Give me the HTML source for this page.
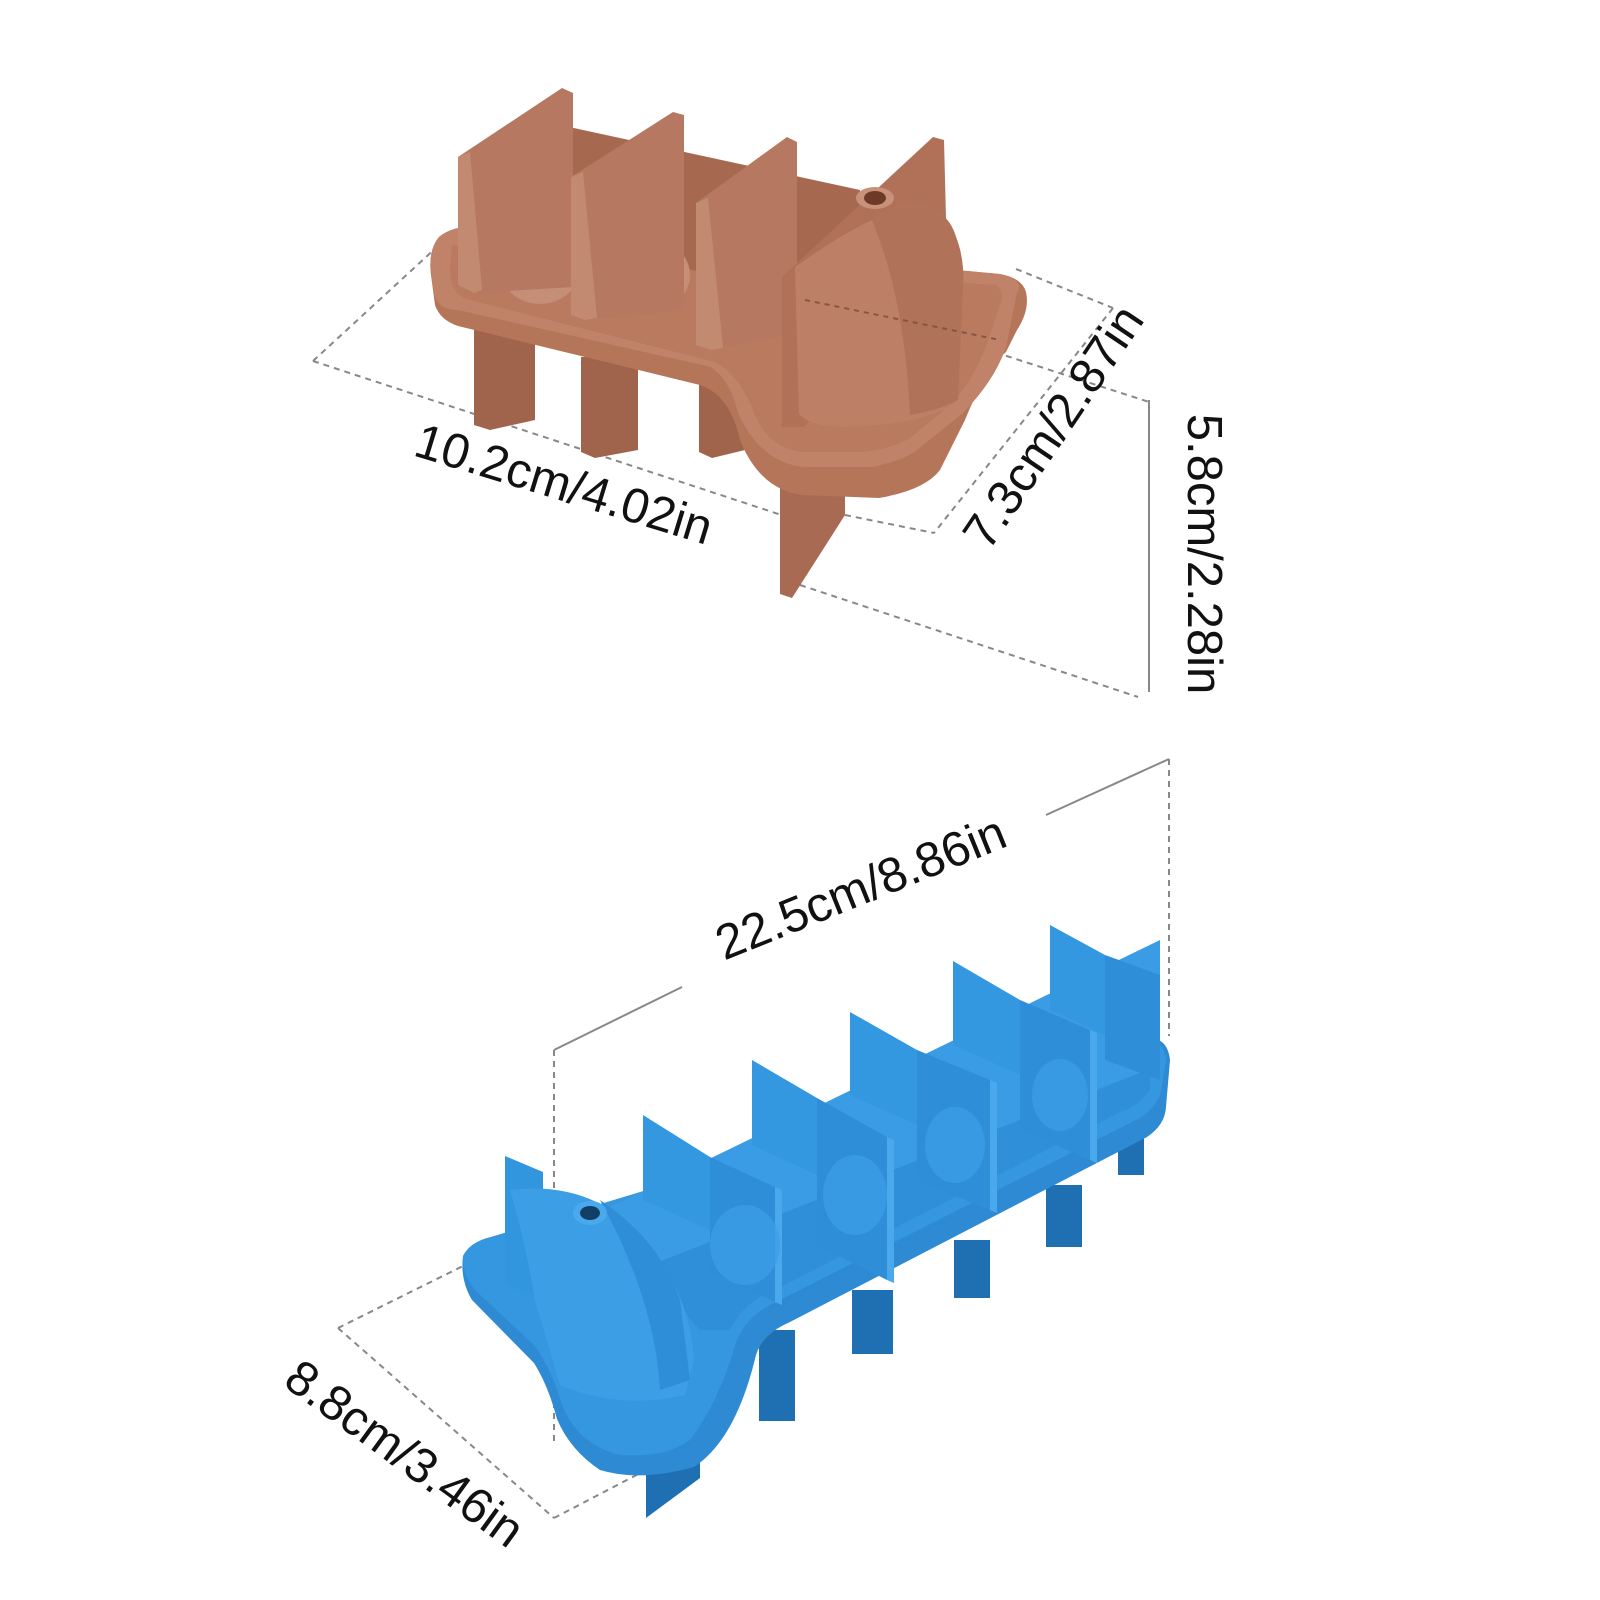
<!DOCTYPE html>
<html><head><meta charset="utf-8"><style>
html,body{margin:0;padding:0;background:#fff;}
svg{display:block}
text{font-family:"Liberation Sans",sans-serif;font-size:49px;fill:#111;}
</style></head><body>
<svg width="1600" height="1600" viewBox="0 0 1600 1600" xmlns="http://www.w3.org/2000/svg">
<g stroke="#888" stroke-width="2" fill="none" stroke-dasharray="6,5">
<line x1="313" y1="361" x2="451" y2="234"/>
<line x1="313" y1="361" x2="821" y2="528"/>
<line x1="1016" y1="269" x2="1113" y2="308"/>
<line x1="1113" y1="308" x2="934" y2="533"/>
<line x1="800" y1="585" x2="1138" y2="697"/>
<line x1="985" y1="349" x2="1149" y2="402"/>
<line x1="845" y1="515" x2="934" y2="533"/>
</g>
<line x1="1149" y1="400" x2="1149" y2="692" stroke="#888" stroke-width="2"/>

<g>
<polygon points="474,330 535,330 535,420 490,430 474,425" fill="#a0644c"/>
<polygon points="581,357 638,357 638,450 595,458 581,452" fill="#a0644c"/>
<polygon points="699,373 745,373 745,450 712,458 699,452" fill="#a0644c"/>
<polygon points="780,430 845,455 845,515 792,598 780,594" fill="#a86a52"/>
<path d="M439,237 Q428,250 431,275 L435,305 Q440,320 458,326 L700,385 Q730,395 740,440 Q760,490 803,495 L879,498 Q925,490 940,470 L965,420 Q985,370 1006,352 L1017,330 Q1030,310 1026,292 Q1022,278 1000,274 L478,226 Q452,226 439,237 Z" fill="#b57559"/>
<path d="M439,237 Q428,250 431,275 L435,297 Q440,310 458,310 L711,367 Q730,380 738,413 Q760,462 803,467 L872,467 Q905,460 917,450 L963,413 Q995,380 1006,347 L1017,293 Q1025,280 1000,274 L478,226 Q452,226 439,237 Z" fill="#c08268"/>
<path d="M452,245 L995,285 Q1005,290 1000,305 L990,335 Q975,380 950,405 L910,438 Q890,450 860,452 L805,452 Q770,450 755,415 Q740,375 715,362 L470,300 Q450,295 450,270 Z" fill="#b97a60"/>
<polygon points="523,117 860,190 860,300 523,240" fill="#a66950"/>
<ellipse cx="540" cy="268" rx="40" ry="36" fill="#c48e77"/>
<ellipse cx="650" cy="275" rx="40" ry="36" fill="#c48e77"/>
<ellipse cx="760" cy="292" rx="36" ry="34" fill="#c48e77"/>
<polygon points="458,157 562,88 573,93 573,287 474,293 458,285" fill="#b67860"/>
<polygon points="458,157 470,152 482,290 474,293 458,285" fill="#c38a72"/>
<polygon points="571,177 673,112 684,115 684,310 585,320 571,315" fill="#b67860"/>
<polygon points="571,177 583,172 597,318 585,320 571,315" fill="#c38a72"/>
<polygon points="696,203 787,137 797,142 797,333 711,350 696,345" fill="#b67860"/>
<polygon points="696,203 708,198 723,348 711,350 696,345" fill="#c38a72"/>
<polygon points="782,277 933,137 944,140 948,297 803,427 782,427" fill="#b07158"/>
<path d="M795,267 Q840,235 872,220 Q900,200 925,203 Q950,215 956,237 Q965,260 963,290 L958,400 Q930,425 841,427 Q805,425 799,413 Z" fill="#bd8067"/>
<path d="M872,220 Q900,200 925,203 Q950,215 956,237 Q965,260 963,290 L958,400 Q940,410 910,415 Q905,300 872,220 Z" fill="#b07259"/>
<ellipse cx="875" cy="198" rx="19" ry="11" fill="#c8917a"/>
<ellipse cx="875" cy="198" rx="11" ry="7" fill="#6e3a28"/>
<line x1="805" y1="300" x2="1000" y2="340" stroke="#8a5540" stroke-width="2" stroke-dasharray="5,5"/>
</g>

<text transform="translate(559,500) rotate(17)" text-anchor="middle">10.2cm/4.02in</text>
<text transform="translate(1067,436) rotate(-56)" text-anchor="middle">7.3cm/2.87in</text>
<text transform="translate(1188,554) rotate(90)" text-anchor="middle">5.8cm/2.28in</text>

<g stroke="#888" stroke-width="2" fill="none">
<line x1="1169" y1="759" x2="1046" y2="815"/>
<line x1="682" y1="987" x2="554" y2="1050"/>
<line x1="1169" y1="759" x2="1169" y2="1036" stroke-dasharray="6,5"/>
<line x1="554" y1="1050" x2="554" y2="1446" stroke-dasharray="6,5"/>
<line x1="338" y1="1328" x2="467" y2="1264" stroke-dasharray="6,5"/>
<line x1="338" y1="1328" x2="554" y2="1518" stroke-dasharray="6,5"/>
<line x1="554" y1="1518" x2="648" y2="1469" stroke-dasharray="6,5"/>
</g>

<g>
<g fill="#1f6fb3">
<rect x="759" y="1330" width="36" height="91"/>
<rect x="852" y="1290" width="41" height="64"/>
<rect x="954" y="1240" width="36" height="58"/>
<rect x="1046" y="1185" width="36" height="62"/>
<rect x="1118" y="1130" width="26" height="45"/>
<polygon points="646,1440 700,1412 700,1478 646,1518"/>
</g>
<path d="M463,1256 Q460,1280 472,1300 L534,1363 Q548,1385 557,1419 Q570,1450 600,1470 Q640,1482 694,1467 Q735,1440 755,1359 Q760,1335 790,1322 L1147,1137 Q1165,1125 1166,1107 L1170,1060 Q1168,1040 1152,1038 L491,1237 Q470,1242 463,1256 Z" fill="#2e8ad3"/>
<path d="M463,1256 Q462,1275 475,1290 L534,1345 Q552,1370 562,1405 Q578,1445 620,1455 Q665,1458 690,1440 Q720,1400 735,1345 Q745,1315 780,1300 L1140,1118 Q1160,1105 1162,1085 L1166,1060 Q1164,1045 1152,1038 L491,1237 Q470,1242 463,1256 Z" fill="#3597e0"/>
<path d="M600,1215 L1150,1050 L1150,1090 Q1140,1105 1120,1112 L775,1290 Q745,1300 730,1330 L700,1330 Z" fill="#2f8fd9"/>
<polygon points="600,1212 1160,940 1160,1065 600,1285" fill="#3a9ce4"/>
<polygon points="505,1156 543,1172 543,1300 505,1285" fill="#3296de"/>
<g>
<polygon points="643,1115 710,1157 710,1230 643,1200" fill="#3498e0"/>
<polygon points="710,1157 775,1187 775,1302 710,1272" fill="#2f8ed8"/>
<polygon points="775,1187 782,1190 782,1305 775,1302" fill="#4aa8ec"/>
<polygon points="752,1060 817,1098 817,1175 752,1145" fill="#3498e0"/>
<polygon points="817,1098 887,1137 887,1280 817,1245" fill="#2f8ed8"/>
<polygon points="887,1137 894,1140 894,1283 887,1280" fill="#4aa8ec"/>
<polygon points="850,1012 917,1050 917,1125 850,1095" fill="#3498e0"/>
<polygon points="917,1050 990,1080 990,1210 917,1180" fill="#2f8ed8"/>
<polygon points="990,1080 997,1083 997,1213 990,1210" fill="#4aa8ec"/>
<polygon points="953,961 1020,1000 1020,1075 953,1045" fill="#3498e0"/>
<polygon points="1020,1000 1090,1030 1090,1160 1020,1130" fill="#2f8ed8"/>
<polygon points="1090,1030 1097,1033 1097,1163 1090,1160" fill="#4aa8ec"/>
<polygon points="1050,925 1105,955 1105,1035 1050,1010" fill="#3498e0"/>
<polygon points="1105,955 1160,975 1160,1080 1105,1060" fill="#2f8ed8"/>
</g>
<ellipse cx="745" cy="1245" rx="35" ry="40" fill="#3a9fe8" opacity="0.7"/>
<ellipse cx="855" cy="1195" rx="32" ry="40" fill="#3a9fe8" opacity="0.7"/>
<ellipse cx="955" cy="1145" rx="30" ry="38" fill="#3a9fe8" opacity="0.7"/>
<ellipse cx="1060" cy="1095" rx="28" ry="36" fill="#3a9fe8" opacity="0.7"/>
<path d="M510,1190 Q590,1180 640,1235 Q690,1290 694,1360 L685,1395 Q620,1410 560,1385 L535,1300 Q525,1240 510,1190 Z" fill="#3c9fe6"/>
<path d="M600,1200 Q660,1240 680,1300 L690,1380 L660,1390 Q655,1300 600,1200 Z" fill="#2f8ed8"/>
<ellipse cx="590" cy="1213" rx="17" ry="12" fill="#4aa8ec"/>
<ellipse cx="590" cy="1213" rx="10" ry="7" fill="#123f66"/>
</g>

<text transform="translate(867,903) rotate(-22)" text-anchor="middle">22.5cm/8.86in</text>
<text transform="translate(395,1467) rotate(36)" text-anchor="middle">8.8cm/3.46in</text>
</svg>
</body></html>
